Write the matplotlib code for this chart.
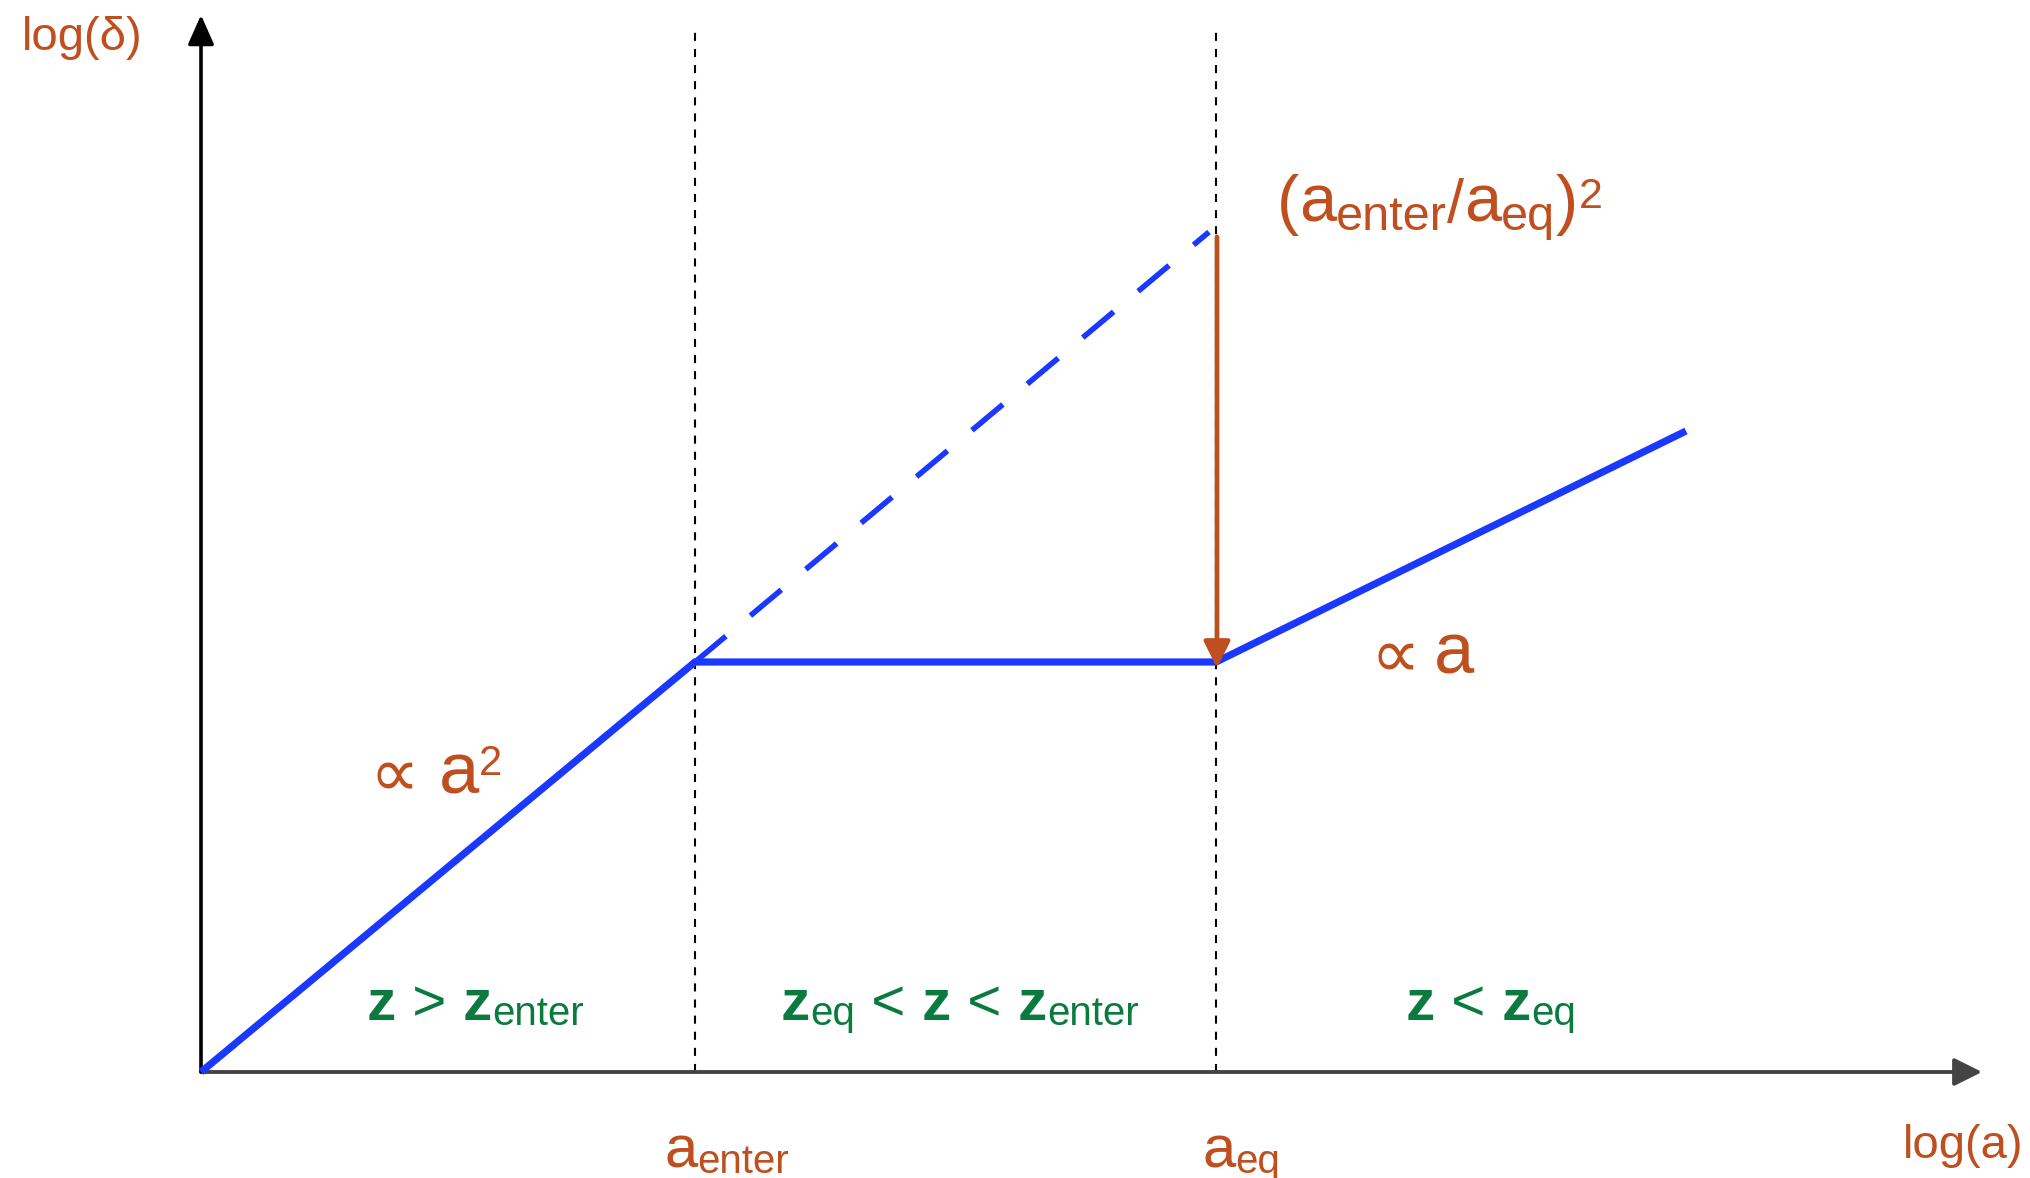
import matplotlib
matplotlib.use("Agg")
import matplotlib.pyplot as plt
from matplotlib.patches import FancyArrowPatch

plt.rcParams['lines.scale_dashes'] = False

# ---- data (log-log sketch, arbitrary units) ----
log_a_knots = [0.0, 4.94, 10.15, 14.85]          # origin, a_enter, a_eq, end
log_delta_knots = [0.0, 4.10, 4.10, 6.41]
dashed_log_a = [4.94, 10.08]                      # continued a^2 growth
dashed_log_delta = [4.10, 8.40]
transition_log_a = [4.94, 10.15]                  # a_enter, a_eq
supp_x = 10.16
supp_from, supp_to = 8.35, 4.04
x_axis_end = 17.81
y_axis_end = 10.57
guide_top = 10.47

BROWN = '#bf4f1f'
GREEN = '#0b7a3f'
BLUE = '#1a38ff'

BR = ['Liberation Sans', 'DejaVu Sans']
DV = ['DejaVu Sans']

fig = plt.figure(figsize=(20.3, 11.78), dpi=100)
ax = fig.add_axes([0, 0, 1, 1])
ax.set_xlim(-2.01, 18.29)
ax.set_ylim(-1.06, 10.72)
ax.axis('off')

# guide lines
for xv in transition_log_a:
    ax.plot([xv, xv], [0, guide_top], color='black', lw=1.5,
            linestyle=(0, (5.8, 5.8)), zorder=1)

# axes arrows
ax.add_patch(FancyArrowPatch((0, 0), (x_axis_end, 0),
             arrowstyle='-|>,head_length=17,head_width=8.5', mutation_scale=1,
             color='#444444', lw=2.8, shrinkA=0, shrinkB=0, zorder=3))
ax.add_patch(FancyArrowPatch((0, 0), (0, y_axis_end),
             arrowstyle='-|>,head_length=18,head_width=8', mutation_scale=1,
             color='black', lw=2.6, shrinkA=0, shrinkB=0, zorder=3))

# curves
ax.plot(log_a_knots, log_delta_knots, color=BLUE, lw=5.2, zorder=4,
        solid_joinstyle='miter', solid_capstyle='butt')
ax.plot(dashed_log_a, dashed_log_delta, color=BLUE, lw=4.0, zorder=4,
        linestyle=(0, (29, 23)), dash_capstyle='butt')

# suppression arrow
ax.add_patch(FancyArrowPatch((supp_x, supp_from), (supp_x, supp_to),
             arrowstyle='-|>,head_length=16,head_width=8', mutation_scale=1,
             color=BROWN, lw=3.4, shrinkA=0, shrinkB=0, zorder=5))


def compose(x, y, parts, color):
    r = fig.canvas.get_renderer()
    dx = 0.0
    for s, size, fam, weight, dy, gap in parts:
        dx += gap
        t = ax.annotate(s, (x, y), xytext=(dx, dy), textcoords='offset pixels',
                        fontsize=size, family=fam, fontweight=weight,
                        color=color, ha='left', va='baseline', zorder=6)
        dx += t.get_window_extent(r).width


# axis labels
ax.text(-1.79, 10.22, 'log(δ)', fontsize=34, family=BR, color=BROWN,
        ha='left', va='baseline')
ax.text(17.02, -0.86, 'log(a)', fontsize=34, family=BR, color=BROWN,
        ha='left', va='baseline')

# suppression factor label
compose(10.76, 8.50, [('(', 48, BR, 'normal', 0, 0),
                      ('a', 48, BR, 'normal', 0, 0),
                      ('enter', 35, BR, 'normal', -8, 0),
                      ('/', 44, BR, 'normal', 0, 0),
                      ('a', 48, BR, 'normal', 0, 0),
                      ('eq', 35, BR, 'normal', -8, 0),
                      (')', 48, BR, 'normal', 0, 0),
                      ('2', 31, BR, 'normal', 14, 1)], BROWN)

# slope labels
compose(1.68, 2.79, [('∝', 50, DV, 'normal', -2, 0),
                     ('a', 52, BR, 'normal', 0, 20),
                     ('2', 30, BR, 'normal', 18, 0)], BROWN)
compose(11.69, 3.98, [('∝', 50, DV, 'normal', -2, 0),
                      ('a', 52, BR, 'normal', 0, 14)], BROWN)

# redshift regime labels
compose(1.66, 0.52, [('z', 42, BR, 'bold', 0, 0),
                     (' > ', 42, BR, 'normal', 0, 0),
                     ('z', 42, BR, 'bold', 0, 0),
                     ('enter', 29, BR, 'normal', -5, 0)], GREEN)
compose(5.80, 0.52, [('z', 42, BR, 'bold', 0, 0),
                     ('eq', 29, BR, 'normal', -5, 0),
                     (' < ', 42, BR, 'normal', 0, 0),
                     ('z', 42, BR, 'bold', 0, 0),
                     (' < ', 42, BR, 'normal', 0, 0),
                     ('z', 42, BR, 'bold', 0, 0),
                     ('enter', 29, BR, 'normal', -5, 0)], GREEN)
compose(12.05, 0.52, [('z', 42, BR, 'bold', 0, 0),
                      (' < ', 42, BR, 'normal', 0, 0),
                      ('z', 42, BR, 'bold', 0, 0),
                      ('eq', 29, BR, 'normal', -5, 0)], GREEN)

# tick-like labels
compose(4.63, -0.95, [('a', 43, BR, 'normal', 0, 0),
                      ('enter', 29, BR, 'normal', -6, 0)], BROWN)
compose(10.01, -0.95, [('a', 43, BR, 'normal', 0, 0),
                       ('eq', 29, BR, 'normal', -6, 0)], BROWN)

fig.savefig('out.png', dpi=100)
